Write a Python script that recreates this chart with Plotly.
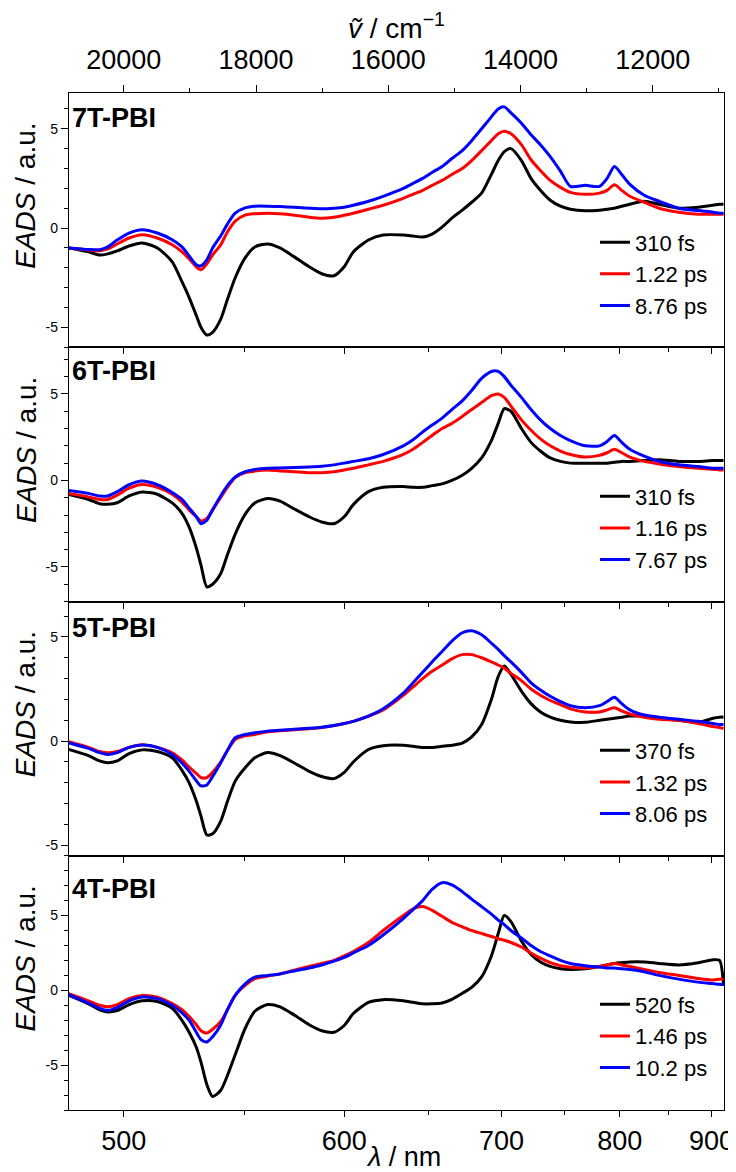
import plotly.graph_objects as go

FONT = "Liberation Sans, Arial, sans-serif"

# ---------------- data (wavelength grid in nm, EADS in a.u.) ----------------
wavelength_nm = [480, 487, 491, 494, 497.5, 502, 507, 513, 519, 523,
                 526, 529, 531, 533.5, 536, 539.5, 542.5, 546, 550.5, 555,
                 561, 567, 574, 581.5, 588, 594.5, 600, 605, 613.5, 622,
                 634, 640, 646, 652, 658.5, 665, 672, 678.5, 685.5, 692.5,
                 697.5, 702, 707, 715, 722.5, 730, 738, 746.5, 755, 768,
                 781, 788, 795, 802, 810, 824.5, 840, 861.5, 884, 902,
                 910, 915]

panel_names = ["7T-PBI", "6T-PBI", "5T-PBI", "4T-PBI"]

labels_7T = ["310 fs", "1.22 ps", "8.76 ps"]
labels_6T = ["310 fs", "1.16 ps", "7.67 ps"]
labels_5T = ["370 fs", "1.32 ps", "8.06 ps"]
labels_4T = ["520 fs", "1.46 ps", "10.2 ps"]

eads_7T_a = [-1.0, -1.2, -1.36, -1.3, -1.15, -0.9, -0.75, -1.0, -1.7, -2.7,
             -3.5, -4.4, -5.0, -5.38, -5.25, -4.6, -3.6, -2.5, -1.5, -0.95,
             -0.8, -1.0, -1.45, -1.95, -2.3, -2.4, -1.95, -1.2, -0.6, -0.35,
             -0.35, -0.4, -0.45, -0.3, 0.05, 0.5, 0.9, 1.3, 1.76, 2.7,
             3.4, 3.85, 4.0, 3.4, 2.5, 1.9, 1.4, 1.1, 0.95, 0.87,
             0.9, 0.95, 1.0, 1.1, 1.2, 1.35, 1.2, 1.0, 1.05, 1.15,
             1.2, 1.2]
eads_7T_b = [-1.0, -1.1, -1.14, -1.05, -0.8, -0.5, -0.33, -0.5, -0.84, -1.2,
             -1.55, -1.95, -2.1, -1.8, -1.35, -0.85, -0.2, 0.35, 0.65, 0.72,
             0.75, 0.72, 0.65, 0.55, 0.5, 0.55, 0.65, 0.75, 0.95, 1.15,
             1.5, 1.7, 1.9, 2.15, 2.4, 2.7, 3.0, 3.4, 3.9, 4.4,
             4.75, 4.88, 4.75, 4.2, 3.44, 2.9, 2.4, 2.05, 1.8, 1.7,
             1.76, 1.9, 2.18, 1.9, 1.6, 1.3, 1.0, 0.8, 0.7, 0.7,
             0.7, 0.7]
eads_7T_c = [-1.0, -1.08, -1.09, -0.95, -0.6, -0.25, -0.08, -0.25, -0.59, -0.95,
             -1.4, -1.85, -1.9, -1.6, -1.0, -0.4, 0.2, 0.75, 1.02, 1.1,
             1.1, 1.08, 1.05, 1.0, 0.97, 1.0, 1.05, 1.15, 1.35, 1.6,
             2.0, 2.25, 2.5, 2.8, 3.1, 3.5, 3.9, 4.4, 5.0, 5.6,
             6.0, 6.1, 5.8, 5.28, 4.7, 4.2, 3.6, 2.87, 2.1, 2.15,
             2.1, 2.5, 3.1, 2.7, 2.2, 1.65, 1.35, 1.0, 0.88, 0.8,
             0.75, 0.75]

eads_6T_a = [-0.81, -1.1, -1.35, -1.38, -1.29, -0.9, -0.67, -0.8, -1.3, -1.9,
             -2.7, -3.9, -4.9, -6.15, -6.0, -5.4, -4.3, -3.1, -1.96, -1.3,
             -1.05, -1.2, -1.65, -2.1, -2.4, -2.5, -2.1, -1.4, -0.65, -0.4,
             -0.35, -0.4, -0.4, -0.3, -0.2, 0.0, 0.3, 0.7, 1.3, 2.3,
             3.3, 4.15, 4.0, 3.0, 2.2, 1.7, 1.3, 1.1, 1.0, 1.0,
             1.0, 1.0, 1.05, 1.1, 1.1, 1.15, 1.2, 1.1, 1.1, 1.15,
             1.15, 1.15]
eads_6T_b = [-0.75, -0.95, -1.1, -1.1, -0.85, -0.45, -0.23, -0.4, -0.8, -1.25,
             -1.7, -2.1, -2.35, -2.2, -1.7, -1.0, -0.4, 0.16, 0.45, 0.54,
             0.6, 0.55, 0.5, 0.45, 0.45, 0.5, 0.6, 0.7, 0.9, 1.1,
             1.5, 1.8, 2.2, 2.6, 3.0, 3.3, 3.7, 4.1, 4.5, 4.9,
             5.0, 4.8, 4.3, 3.5, 2.9, 2.4, 2.0, 1.7, 1.5, 1.35,
             1.45, 1.6, 1.8, 1.6, 1.35, 1.1, 0.95, 0.8, 0.7, 0.65,
             0.6, 0.6]
eads_6T_c = [-0.58, -0.75, -0.9, -0.9, -0.65, -0.25, -0.04, -0.25, -0.7, -1.1,
             -1.6, -2.1, -2.5, -2.3, -1.7, -0.9, -0.3, 0.2, 0.5, 0.63,
             0.7, 0.72, 0.75, 0.78, 0.82, 0.9, 1.0, 1.1, 1.25, 1.5,
             2.0, 2.35, 2.8, 3.2, 3.6, 4.1, 4.6, 5.2, 5.9, 6.3,
             6.3, 6.0, 5.5, 4.8, 4.1, 3.5, 3.0, 2.6, 2.3, 2.0,
             2.0, 2.25, 2.6, 2.2, 1.8, 1.4, 1.1, 0.9, 0.8, 0.7,
             0.7, 0.7]

eads_5T_a = [-0.4, -0.7, -0.95, -1.04, -0.95, -0.6, -0.42, -0.5, -0.8, -1.4,
             -2.0, -2.87, -3.6, -4.5, -4.45, -3.85, -2.9, -1.92, -1.28, -0.8,
             -0.55, -0.7, -1.05, -1.45, -1.7, -1.8, -1.5, -1.0, -0.4, -0.22,
             -0.2, -0.25, -0.3, -0.3, -0.25, -0.2, -0.1, 0.2, 0.8, 2.0,
             3.1, 3.6, 3.2, 2.4, 1.8, 1.4, 1.15, 1.0, 0.92, 0.9,
             1.0, 1.05, 1.1, 1.15, 1.2, 1.2, 1.1, 1.0, 0.9, 1.1,
             1.15, 1.15]
eads_5T_b = [-0.03, -0.3, -0.5, -0.56, -0.5, -0.3, -0.17, -0.3, -0.56, -0.9,
             -1.25, -1.55, -1.75, -1.75, -1.5, -1.0, -0.45, 0.08, 0.25, 0.32,
             0.45, 0.5, 0.55, 0.6, 0.65, 0.75, 0.85, 0.95, 1.2, 1.5,
             2.2, 2.6, 3.0, 3.35, 3.65, 3.95, 4.15, 4.15, 4.0, 3.8,
             3.65, 3.5, 3.25, 2.9, 2.5, 2.2, 1.95, 1.75, 1.55, 1.4,
             1.4, 1.5, 1.6, 1.45, 1.3, 1.15, 1.05, 1.0, 0.85, 0.7,
             0.65, 0.6]
eads_5T_c = [-0.08, -0.35, -0.55, -0.64, -0.55, -0.3, -0.19, -0.3, -0.64, -1.05,
             -1.45, -1.9, -2.15, -2.1, -1.7, -1.05, -0.45, 0.16, 0.32, 0.4,
             0.48, 0.52, 0.57, 0.62, 0.67, 0.75, 0.85, 0.95, 1.2, 1.55,
             2.3, 2.8, 3.3, 3.8, 4.3, 4.8, 5.2, 5.3, 5.1, 4.7,
             4.4, 4.1, 3.8, 3.3, 2.8, 2.45, 2.15, 1.9, 1.7, 1.6,
             1.7, 1.9, 2.1, 1.8, 1.5, 1.25, 1.15, 1.05, 0.95, 0.85,
             0.8, 0.8]

eads_4T_a = [-0.33, -0.9, -1.3, -1.44, -1.35, -0.95, -0.7, -0.75, -1.2, -2.0,
             -2.8, -3.8, -4.8, -6.3, -7.1, -6.7, -5.7, -4.3, -2.55, -1.4,
             -0.95, -1.1, -1.65, -2.3, -2.7, -2.8, -2.35, -1.55, -0.8, -0.62,
             -0.7, -0.8, -0.9, -0.9, -0.85, -0.6, -0.2, 0.2, 0.9, 2.3,
             3.8, 5.0, 4.6, 3.3, 2.4, 1.9, 1.6, 1.45, 1.4, 1.45,
             1.6, 1.7, 1.8, 1.85, 1.9, 1.9, 1.8, 1.7, 1.85, 2.05,
             2.0, 0.3]
eads_4T_b = [-0.22, -0.7, -1.0, -1.1, -0.95, -0.55, -0.35, -0.45, -0.89, -1.3,
             -1.75, -2.3, -2.7, -2.85, -2.6, -2.1, -1.3, -0.33, 0.33, 0.78,
             0.95, 1.1, 1.35, 1.6, 1.8, 2.0, 2.3, 2.6, 3.2, 4.0,
             5.0, 5.45, 5.6, 5.35, 4.95, 4.55, 4.25, 4.0, 3.8, 3.6,
             3.45, 3.35, 3.2, 2.9, 2.5, 2.15, 1.85, 1.65, 1.55, 1.5,
             1.6, 1.7, 1.8, 1.7, 1.6, 1.4, 1.2, 1.0, 0.8, 0.7,
             0.75, 0.75]
eads_4T_c = [-0.29, -0.85, -1.2, -1.33, -1.15, -0.7, -0.45, -0.55, -1.0, -1.5,
             -2.0, -2.8, -3.3, -3.45, -3.1, -2.33, -1.3, -0.33, 0.44, 0.89,
             1.0, 1.1, 1.3, 1.5, 1.7, 1.95, 2.2, 2.5, 3.0, 3.7,
             4.8, 5.4, 6.0, 6.75, 7.2, 7.05, 6.6, 6.1, 5.6, 5.1,
             4.7, 4.4, 4.0, 3.5, 3.0, 2.6, 2.3, 2.0, 1.8, 1.65,
             1.55, 1.5, 1.5, 1.45, 1.4, 1.25, 1.0, 0.75, 0.55, 0.45,
             0.4, 0.4]

series_colors = ["#000000", "#ff0000", "#0000ff"]
y_ranges = [[-6.0, 6.8], [-7.0, 7.7], [-5.5, 6.7], [-8.0, 9.0]]

wl_ticks = [500, 600, 700, 800, 900]
wl_minor = [550, 650, 750, 850]
wn_ticks = [20000, 18000, 16000, 14000, 12000]
wn_minor = [19000, 17000, 15000, 13000, 11000]
x_range_nm = [480.1, 915.6]

# ---------------- figure ----------------
wavenumber = [1e7 / w for w in wavelength_nm]
x_range = [1e7 / x_range_nm[0], 1e7 / x_range_nm[1]]

panels = [
    (labels_7T, [eads_7T_a, eads_7T_b, eads_7T_c]),
    (labels_6T, [eads_6T_a, eads_6T_b, eads_6T_c]),
    (labels_5T, [eads_5T_a, eads_5T_b, eads_5T_c]),
    (labels_4T, [eads_4T_a, eads_4T_b, eads_4T_c]),
]

fig = go.Figure()
for i, (labels, series) in enumerate(panels):
    sfx = "" if i == 0 else str(i + 1)
    for j, (lab, vals) in enumerate(zip(labels, series)):
        fig.add_trace(go.Scatter(
            x=wavenumber, y=vals, mode="lines", name=lab,
            line=dict(color=series_colors[j], width=3, shape="spline", smoothing=0.7),
            xaxis="x" + sfx, yaxis="y" + sfx, legend="legend" + sfx,
            legendgroup=f"p{i}s{j}",
        ))

# empty trace to realise the top wavenumber axis
fig.add_trace(go.Scatter(x=[], y=[], xaxis="x5", yaxis="y", showlegend=False,
                         hoverinfo="skip"))

line_w = 1.3
tick_font = dict(family=FONT, size=27, color="black")


def x_axis(anchor, labels_on):
    return dict(
        range=x_range, anchor=anchor, showline=True, linecolor="black",
        linewidth=line_w, mirror=True, ticks="outside", ticklen=6,
        tickwidth=line_w, tickcolor="black", tickmode="array",
        tickvals=[1e7 / w for w in wl_ticks], ticktext=[str(w) for w in wl_ticks],
        minor=dict(tickmode="array", tickvals=[1e7 / w for w in wl_minor],
                   ticks="outside", ticklen=4, tickwidth=line_w, tickcolor="black"),
        showgrid=False, zeroline=False, showticklabels=labels_on,
        tickfont=tick_font, fixedrange=True,
    )


layout = dict(
    width=736, height=1172, margin=dict(l=61, r=10, t=85, b=70),
    paper_bgcolor="white", plot_bgcolor="white",
    font=dict(family=FONT, color="black"),
    showlegend=True,
)

domains = [[0.75, 1.0], [0.5, 0.75], [0.25, 0.5], [0.0, 0.25]]
legend_tops = [0.8737, 0.6239, 0.3741, 0.1244]
label_y = [0.90, 0.908, 0.895, 0.868]
annotations = []
for i in range(4):
    sfx = "" if i == 0 else str(i + 1)
    xa = x_axis("y" + sfx, i == 3)
    if i > 0:
        xa["matches"] = "x"
    layout["xaxis" + sfx] = xa
    layout["yaxis" + sfx] = dict(
        domain=domains[i], anchor="x" + sfx, range=y_ranges[i],
        showline=True, linecolor="black", linewidth=line_w, mirror=True,
        ticks="outside", ticklen=7, tickwidth=line_w, tickcolor="black",
        tickmode="array", tickvals=[-5, 0, 5], ticktext=["-5", "0", "5"],
        minor=dict(tickmode="linear", tick0=0, dtick=1, ticks="outside",
                   ticklen=4, tickwidth=line_w, tickcolor="black"),
        showgrid=False, zeroline=False,
        tickfont=dict(family=FONT, size=14, color="black"),
        fixedrange=True,
    )
    layout["legend" + sfx] = dict(
        x=0.803, xanchor="left", y=legend_tops[i], yanchor="top",
        bgcolor="rgba(0,0,0,0)", borderwidth=0,
        font=dict(family=FONT, size=22, color="black"),
        tracegroupgap=8, traceorder="normal",
    )
    # panel label
    annotations.append(dict(
        text="<b>" + panel_names[i] + "</b>", xref="x" + sfx + " domain",
        yref="y" + sfx + " domain", x=0.002, y=label_y[i], xanchor="left",
        yanchor="middle", showarrow=False,
        font=dict(family=FONT, size=27, color="black"),
    ))
    # y-axis title
    annotations.append(dict(
        text="<i>EADS</i> / a.u.", xref="paper", yref="y" + sfx + " domain",
        x=-0.066, y=0.595, xanchor="center", yanchor="middle", textangle=-90,
        showarrow=False, font=dict(family=FONT, size=28, color="black"),
    ))

# bottom axis title
annotations.append(dict(
    text="<i>λ</i> / nm", xref="paper", yref="paper", x=0.51, y=-0.0465,
    xanchor="center", yanchor="middle", showarrow=False, borderpad=0,
    font=dict(family=FONT, size=27, color="black"),
))

layout["xaxis5"] = dict(
    range=x_range, overlaying="x", anchor="y", side="top",
    showline=False, ticks="outside", ticklen=7, tickwidth=line_w,
    tickcolor="black", tickmode="array", tickvals=wn_ticks,
    ticktext=[str(v) for v in wn_ticks],
    minor=dict(tickmode="array", tickvals=wn_minor, ticks="outside", ticklen=4,
               tickwidth=line_w, tickcolor="black"),
    showgrid=False, zeroline=False, tickfont=tick_font, ticklabelstandoff=5,
    title=dict(text="<i>ṽ</i> / cm<sup>−1</sup>", font=dict(family=FONT, size=28),
               standoff=0),
    fixedrange=True,
)
layout["annotations"] = annotations

fig.update_layout(**layout)
fig.write_html("out.html")
